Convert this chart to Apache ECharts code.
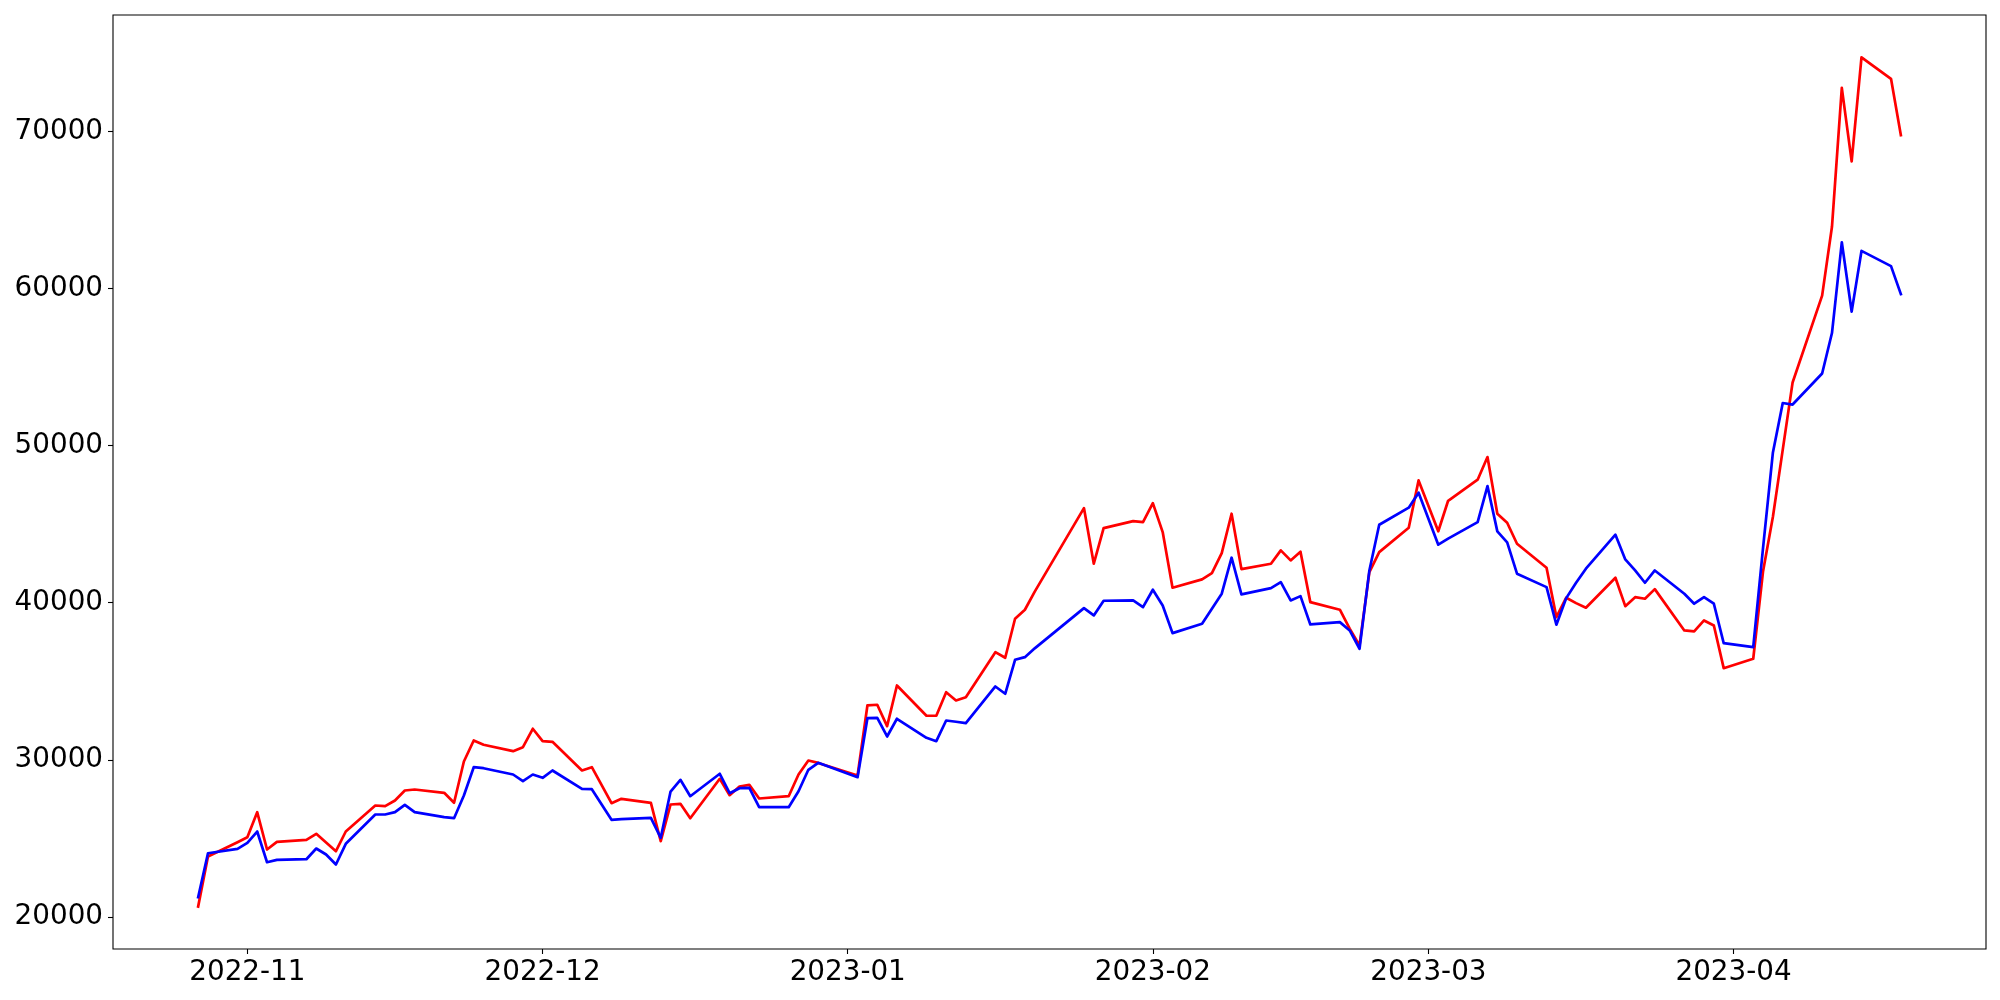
<!DOCTYPE html>
<html>
<head>
<meta charset="utf-8">
<script src="https://cdn.jsdelivr.net/npm/echarts@6/dist/echarts.min.js"></script>
<style>
html,body{margin:0;padding:0;background:#fff;}
#chart{width:2000px;height:1000px;}
</style>
</head>
<body>
<div id="chart"></div>
<script>
const dates = [
"2022-10-27","2022-10-28","2022-10-31","2022-11-01","2022-11-02","2022-11-03","2022-11-04","2022-11-07","2022-11-08","2022-11-09","2022-11-10","2022-11-11",
"2022-11-14","2022-11-15","2022-11-16","2022-11-17","2022-11-18","2022-11-21","2022-11-22","2022-11-23","2022-11-24","2022-11-25","2022-11-28","2022-11-29","2022-11-30",
"2022-12-01","2022-12-02","2022-12-05","2022-12-06","2022-12-07","2022-12-08","2022-12-09","2022-12-12","2022-12-13","2022-12-14","2022-12-15","2022-12-16",
"2022-12-19","2022-12-20","2022-12-21","2022-12-22","2022-12-23","2022-12-26","2022-12-27","2022-12-28","2022-12-29",
"2023-01-02","2023-01-03","2023-01-04","2023-01-05","2023-01-06","2023-01-09","2023-01-10","2023-01-11","2023-01-12","2023-01-13",
"2023-01-16","2023-01-17","2023-01-18","2023-01-19","2023-01-20","2023-01-25","2023-01-26","2023-01-27","2023-01-30","2023-01-31",
"2023-02-01","2023-02-02","2023-02-03","2023-02-06","2023-02-07","2023-02-08","2023-02-09","2023-02-10","2023-02-13","2023-02-14","2023-02-15","2023-02-16","2023-02-17",
"2023-02-20","2023-02-21","2023-02-22","2023-02-23","2023-02-24","2023-02-27","2023-02-28",
"2023-03-02","2023-03-03","2023-03-06","2023-03-07","2023-03-08","2023-03-09","2023-03-10","2023-03-13","2023-03-14","2023-03-15","2023-03-16","2023-03-17",
"2023-03-20","2023-03-21","2023-03-22","2023-03-23","2023-03-24","2023-03-27","2023-03-28","2023-03-29","2023-03-30","2023-03-31",
"2023-04-03","2023-04-04","2023-04-05","2023-04-06","2023-04-07","2023-04-10","2023-04-11","2023-04-12","2023-04-13","2023-04-14","2023-04-17","2023-04-18"
];
const redValues = [
20656,23841,24750,25070,26664,24286,24777,24904,25286,24732,24178,25433,
27089,27045,27407,28044,28108,27898,27261,29891,31228,30955,30547,30802,31974,
31184,31146,29318,29528,28382,27235,27515,27261,24815,27152,27197,26280,
28789,27745,28299,28407,27534,27681,29063,29955,29800,
29000,33458,33502,32140,34732,32802,32802,34305,33776,33987,
36853,36496,38980,39553,40706,46024,42482,44750,45196,45132,
46343,44497,40954,41483,41884,43158,45667,42139,42482,43330,42693,43247,40037,
39553,38343,37280,41948,43222,44775,47788,
44550,46490,47832,49272,45667,45094,43757,42228,39082,40317,39973,39680,
41591,39782,40355,40253,40865,38235,38171,38872,38553,35833,
36432,42005,45476,49750,54023,59551,63933,72780,68099,74715,73353,69761
];
const blueValues = [
21248,24051,24331,24713,25433,23478,23630,23669,24350,23968,23331,24649,
26516,26516,26664,27133,26664,26344,26280,27726,29528,29464,29063,28636,29063,
28853,29318,28152,28127,27152,26178,26216,26305,25031,27980,28725,27681,
29108,27872,28191,28210,26981,26981,27999,29362,29808,
28891,32649,32670,31483,32611,31400,31184,32502,32420,32330,
34668,34203,36368,36534,37094,39655,39190,40126,40145,39718,
40827,39826,38063,38661,39617,40572,42865,40527,40929,41311,40145,40419,38617,
38763,38235,37069,42055,44966,46049,47005,
43693,44080,45132,47425,44540,43840,41846,40992,38598,40291,41273,42164,
44330,42756,42055,41273,42055,40572,39935,40355,39935,37426,
37171,43500,49565,52713,52617,54596,57170,62946,58532,62398,61430,59647
];
const yTicks = [20000,30000,40000,50000,60000,70000];
const xTickLabels = ["2022-11","2022-12","2023-01","2023-02","2023-03","2023-04"];

function ts(s){ const p=s.split('-').map(Number); return Date.UTC(p[0],p[1]-1,p[2]||1); }
const t0 = ts(dates[0]), t1 = ts(dates[dates.length-1]);
const xPad = (t1 - t0) * 0.05;
const allVals = redValues.concat(blueValues);
const vMin = Math.min.apply(null, allVals), vMax = Math.max.apply(null, allVals);
const yPad = (vMax - vMin) * 0.05;
const xTicks = xTickLabels.map(ts);
function fmtMonth(v){ const d=new Date(v); return d.getUTCFullYear()+'-'+String(d.getUTCMonth()+1).padStart(2,'0'); }

const chart = echarts.init(document.getElementById('chart'), null, {renderer:'canvas'});
const labelFont = {fontFamily:'DejaVu Sans', fontSize:27.8, color:'#000'};
chart.setOption({
  animation:false,
  backgroundColor:'#fff',
  grid:{left:113, top:15, width:1873, height:934, show:true, borderColor:'#000', borderWidth:1.1, backgroundColor:'transparent'},
  xAxis:{
    type:'value', min:t0 - xPad, max:t1 + xPad, scale:true,
    axisLine:{show:false},
    splitLine:{show:false},
    axisTick:{show:true, inside:false, length:5, lineStyle:{color:'#000', width:1.1}, customValues:xTicks},
    axisLabel:Object.assign({margin:10, customValues:xTicks, formatter:fmtMonth}, labelFont)
  },
  yAxis:{
    type:'value', min:vMin - yPad, max:vMax + yPad, scale:true,
    axisLine:{show:false},
    splitLine:{show:false},
    axisTick:{show:true, inside:false, length:5, lineStyle:{color:'#000', width:1.1}, customValues:yTicks},
    axisLabel:Object.assign({margin:10, customValues:yTicks, formatter:function(v){return String(Math.round(v));}}, labelFont)
  },
  series:[
    {type:'line', data:dates.map((d,i)=>[ts(d), redValues[i]]), symbol:'none', lineStyle:{color:'#ff0000', width:2.7, join:'round', cap:'square'}, itemStyle:{color:'#ff0000'}, z:2},
    {type:'line', data:dates.map((d,i)=>[ts(d), blueValues[i]]), symbol:'none', lineStyle:{color:'#0000ff', width:2.7, join:'round', cap:'square'}, itemStyle:{color:'#0000ff'}, z:3}
  ]
});
</script>
</body>
</html>
